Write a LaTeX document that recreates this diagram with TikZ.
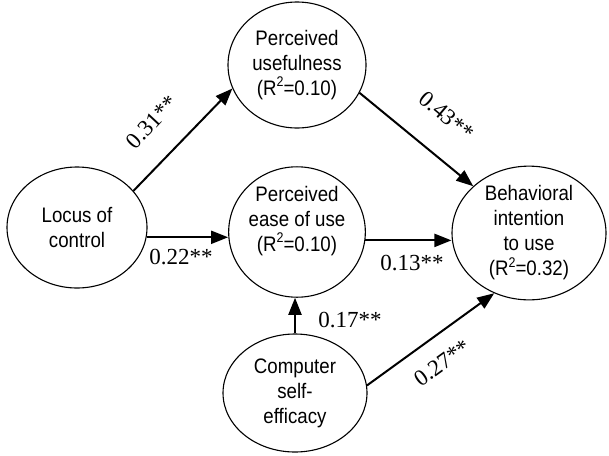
\documentclass[tikz,border=0pt]{standalone}
\usepackage{fontspec}
\setmainfont{Liberation Serif}
\newfontfamily\boxfont[FakeStretch=0.89]{Liberation Sans}
\usetikzlibrary{arrows.meta,shapes.geometric}
\newcommand{\sqr}{\raisebox{0.42em}{\fontsize{14}{14}\selectfont 2}}
\begin{document}
\begin{tikzpicture}[x=1pt,y=-1pt,
  var/.style={draw, ellipse, line width=1.1pt, inner sep=0pt, align=center,
    font=\boxfont\fontsize{21}{25}\selectfont},
  path/.style={line width=2pt, -{Triangle[length=17pt,width=13pt]}},
  coef/.style={inner sep=0pt, font=\fontsize{23}{27}\selectfont}]
\useasboundingbox (0,0) rectangle (609,455);
\node[var, minimum width=140pt, minimum height=121pt] (loc) at (77,227.5) {Locus of\\control};
\node[var, minimum width=138pt, minimum height=126pt] (pu) at (297,65) {Perceived\\usefulness\\(R\sqr=0.10)};
\node[var, minimum width=136pt, minimum height=126pt] (peou) at (297,232) {Perceived\\ease of use\\(R\sqr=0.10)\\[2pt]};
\node[var, minimum width=154pt, minimum height=118pt] (bi) at (529,233) {Behavioral\\intention\\to use\\(R\sqr=0.32)};
\node[var, minimum width=144pt, minimum height=118pt] (cse) at (295,393) {Computer\\self-\\efficacy};
\draw[path] (loc.33.5) -- (pu.200);
\draw[path] (pu.336.7) -- (bi.140.5);
\draw[path] (loc.-8) -- (loc.-8 -| peou.west);
\draw[path] (peou.-7) -- (peou.-7 -| bi.west);
\draw[path] (cse.north) -- (cse.north |- peou.south);
\draw[path] (cse.6.3) -- (bi.240.7);
\node[coef, rotate=47] (c1) at (152,122) {0.31**};
\node[coef, rotate=-40] (c2) at (447,116) {0.43**};
\node[coef] (c3) at (181,257) {0.22**};
\node[coef] (c4) at (412,263) {0.13**};
\node[coef] (c5) at (350,320) {0.17**};
\node[coef, rotate=36] (c6) at (442,363) {0.27**};
\end{tikzpicture}
\end{document}
